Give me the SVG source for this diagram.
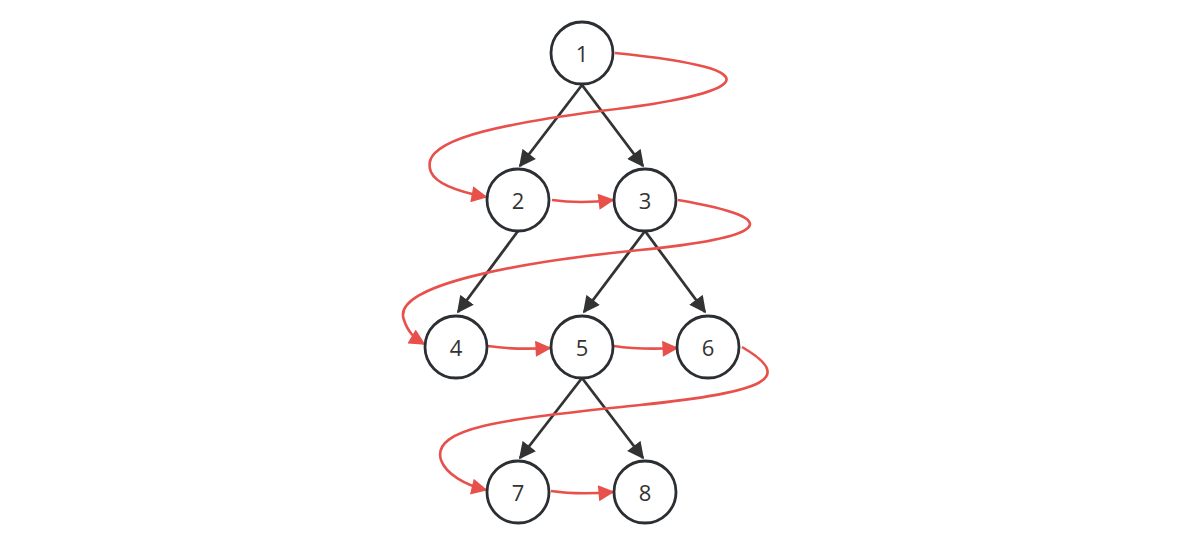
<svg xmlns="http://www.w3.org/2000/svg" width="1177" height="533" viewBox="0 0 1177 533">
<style>
.node circle{fill:#fff;stroke:#2b2f33;stroke-width:2.8}
.node text{font-family:"Open Sans","Noto Sans",sans-serif;font-size:22px;fill:#333;text-anchor:middle;dominant-baseline:central}
.tree{stroke:#333;stroke-width:2.8;fill:none;marker-end:url(#ab)}
.bfs{stroke:#e8514b;stroke-width:2.6;fill:none;marker-end:url(#ar)}
</style>
<defs>
<marker id="ab" viewBox="0 0 10 10" refX="9" refY="5" markerWidth="6.2" markerHeight="6" orient="auto" markerUnits="strokeWidth"><path d="M0,0 L10,5 L0,10 Z" fill="#333"/></marker>
<marker id="ar" viewBox="0 0 10 10" refX="9" refY="5" markerWidth="7.5" markerHeight="6.2" orient="auto" markerUnits="strokeWidth"><path d="M0,0 L10,5 L0,10 Z" fill="#e8514b"/></marker>
</defs>
<rect width="1177" height="533" fill="#fff"/>
<g id="connectors">
<path class="tree" d="M582,85 L520,166"/>
<path class="tree" d="M582,85 L643,166"/>
<path class="tree" d="M518,231 L458,312"/>
<path class="tree" d="M645,231 L584,312"/>
<path class="tree" d="M645,231 L705,312"/>
<path class="tree" d="M582,378 L520,458"/>
<path class="tree" d="M582,378 L643,458"/>
<path class="bfs" d="M615,53 C785,70 745,94 600,111 C470,128 420,145 431,172 C437,186 465,193 486,197"/>
<path class="bfs" d="M552,200 Q580,204 613,200"/>
<path class="bfs" d="M678,200 C795,220 760,238 640,250 C520,262 390,285 404,320 C408,332 414,338 424,344"/>
<path class="bfs" d="M488,346 Q515,350 550,348"/>
<path class="bfs" d="M614,346 Q640,350 677,348"/>
<path class="bfs" d="M742,347 C795,378 768,392 640,405 C520,418 430,425 441,460 C446,474 465,485 486,490"/>
<path class="bfs" d="M551,491 Q578,495 613,492"/>
</g>
<g id="n1" class="node"><circle cx="582" cy="53" r="31"/><text x="582" y="53">1</text></g>
<g id="n2" class="node"><circle cx="518" cy="200" r="31"/><text x="518" y="200">2</text></g>
<g id="n3" class="node"><circle cx="645" cy="200" r="31"/><text x="645" y="200">3</text></g>
<g id="n4" class="node"><circle cx="456" cy="347" r="31"/><text x="456" y="347">4</text></g>
<g id="n5" class="node"><circle cx="582" cy="347" r="31"/><text x="582" y="347">5</text></g>
<g id="n6" class="node"><circle cx="708" cy="347" r="31"/><text x="708" y="347">6</text></g>
<g id="n7" class="node"><circle cx="518" cy="492" r="31"/><text x="518" y="492">7</text></g>
<g id="n8" class="node"><circle cx="645" cy="492" r="31"/><text x="645" y="492">8</text></g>
</svg>
